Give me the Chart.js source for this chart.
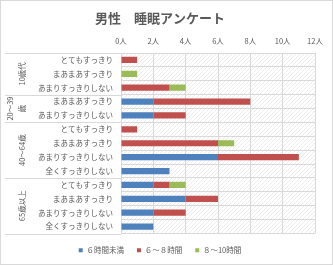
<!DOCTYPE html>
<html>
<head>
<meta charset="utf-8">
<script src="https://cdn.jsdelivr.net/npm/chart.js@4"></script>
<style>
  html, body { margin: 0; padding: 0; background: #fff; }
  #wrap { width: 331px; height: 263px; border: 1px solid #d9d9d9; }
</style>
</head>
<body>
<div id="wrap"><canvas id="myChart" width="331" height="263"></canvas></div>
<script>
const categories = [
  "とてもすっきり", "まあまあすっきり", "あまりすっきりしない",
  "まあまあすっきり", "あまりすっきりしない",
  "とてもすっきり", "まあまあすっきり", "あまりすっきりしない", "全くすっきりしない",
  "とてもすっきり", "まあまあすっきり", "あまりすっきりしない", "全くすっきりしない",
];
const groups = ["10歳代", ["20～39", "歳"], "40～64歳", "65歳以上"];
const groupSizes = [3, 2, 4, 4];

const under6 = [0, 0, 0, 2, 2, 0, 0, 6, 3, 2, 4, 2, 2];
const from6to8 = [1, 0, 3, 6, 2, 1, 6, 5, 0, 1, 2, 2, 0];
const from8to10 = [0, 1, 1, 0, 0, 0, 1, 0, 0, 1, 0, 0, 0];

const seriesNames = ["６時間未満", "６～８時間", "８～10時間"];
const xTicks = [0, 2, 4, 6, 8, 10, 12];

const jpFont = "'Noto Sans CJK JP', 'Noto Sans', sans-serif";
const textColor = "#595959";
const gridColor = "#d9d9d9";

// hatch for the plot background
function makeHatch() {
  const c = document.createElement("canvas");
  c.width = 4;
  c.height = 4;
  const g = c.getContext("2d");
  g.fillStyle = "#ffffff";
  g.fillRect(0, 0, 4, 4);
  g.fillStyle = "#ececec";
  g.fillRect(0, 3, 1, 1);
  g.fillRect(1, 2, 1, 1);
  g.fillRect(2, 1, 1, 1);
  g.fillRect(3, 0, 1, 1);
  return g.createPattern(c, "repeat");
}

const plotBg = {
  id: "plotBg",
  beforeDraw(chart) {
    const { ctx, chartArea: a } = chart;
    ctx.save();
    ctx.fillStyle = makeHatch();
    ctx.fillRect(a.left, a.top, a.right - a.left, a.bottom - a.top);
    ctx.restore();
  },
};

const groupLabels = {
  id: "groupLabels",
  afterDraw(chart) {
    const { ctx, chartArea: a } = chart;
    const y = chart.scales.y;
    const half = (y.getPixelForValue(1) - y.getPixelForValue(0)) / 2;
    ctx.save();
    ctx.strokeStyle = gridColor;
    ctx.lineWidth = 1;
    ctx.fillStyle = textColor;
    ctx.font = "7.5px " + jpFont;
    ctx.textAlign = "center";
    ctx.textBaseline = "middle";
    let start = 0;
    groups.forEach((g, i) => {
      const end = start + groupSizes[i] - 1;
      const top = y.getPixelForValue(start) - half;
      const bot = y.getPixelForValue(end) + half;
      ctx.beginPath();
      ctx.moveTo(4, Math.round(top) + 0.5);
      ctx.lineTo(a.left, Math.round(top) + 0.5);
      ctx.moveTo(4, Math.round(bot) + 0.5);
      ctx.lineTo(a.left, Math.round(bot) + 0.5);
      ctx.stroke();
      const lines = Array.isArray(g) ? g : [g];
      const cy = (top + bot) / 2;
      ctx.save();
      ctx.translate(lines.length > 1 ? 15 : 21, cy);
      ctx.rotate(-Math.PI / 2);
      lines.forEach((t, k) => {
        ctx.fillText(t, 0, (k - (lines.length - 1) / 2) * 12);
      });
      ctx.restore();
      start = end + 1;
    });
    ctx.restore();
  },
};

new Chart(document.getElementById("myChart"), {
  type: "bar",
  data: {
    labels: categories,
    datasets: [
      { label: seriesNames[0], data: under6, backgroundColor: "#4f81bd" },
      { label: seriesNames[1], data: from6to8, backgroundColor: "#c0504d" },
      { label: seriesNames[2], data: from8to10, backgroundColor: "#9bbb59" },
    ],
  },
  options: {
    indexAxis: "y",
    responsive: false,
    animation: false,
    layout: { padding: { top: 5, left: 4, right: 17, bottom: 0 } },
    datasets: { bar: { categoryPercentage: 1, barPercentage: 0.45 } },
    plugins: {
      title: {
        display: true,
        text: "男性　睡眠アンケート",
        color: textColor,
        font: { family: jpFont, size: 13, weight: "bold" },
        padding: { top: 4, bottom: 4 },
      },
      legend: {
        position: "bottom",
        labels: {
          color: textColor,
          font: { family: jpFont, size: 7.5 },
          boxWidth: 4,
          boxHeight: 4,
          padding: 13,
        },
      },
      tooltip: { enabled: false },
    },
    scales: {
      x: {
        position: "top",
        stacked: true,
        min: 0,
        max: 12,
        afterBuildTicks(scale) {
          scale.ticks = xTicks.map((v) => ({ value: v }));
        },
        afterFit(scale) {
          scale.height = 23.4;
        },
        grid: { color: gridColor, drawTicks: false, tickLength: 0 },
        border: { display: false },
        ticks: {
          color: textColor,
          padding: 7,
          font: { family: jpFont, size: 7.5 },
          callback: (v) => v + "人",
          maxRotation: 0,
        },
      },
      y: {
        stacked: true,
        afterFit(scale) {
          scale.width = 116;
        },
        grid: { color: gridColor, drawTicks: false, tickLength: 0, offset: true },
        border: { color: gridColor },
        ticks: {
          color: textColor,
          padding: 8,
          font: { family: jpFont, size: 7.5 },
          autoSkip: false,
        },
      },
    },
  },
  plugins: [plotBg, groupLabels],
});
</script>
</body>
</html>
